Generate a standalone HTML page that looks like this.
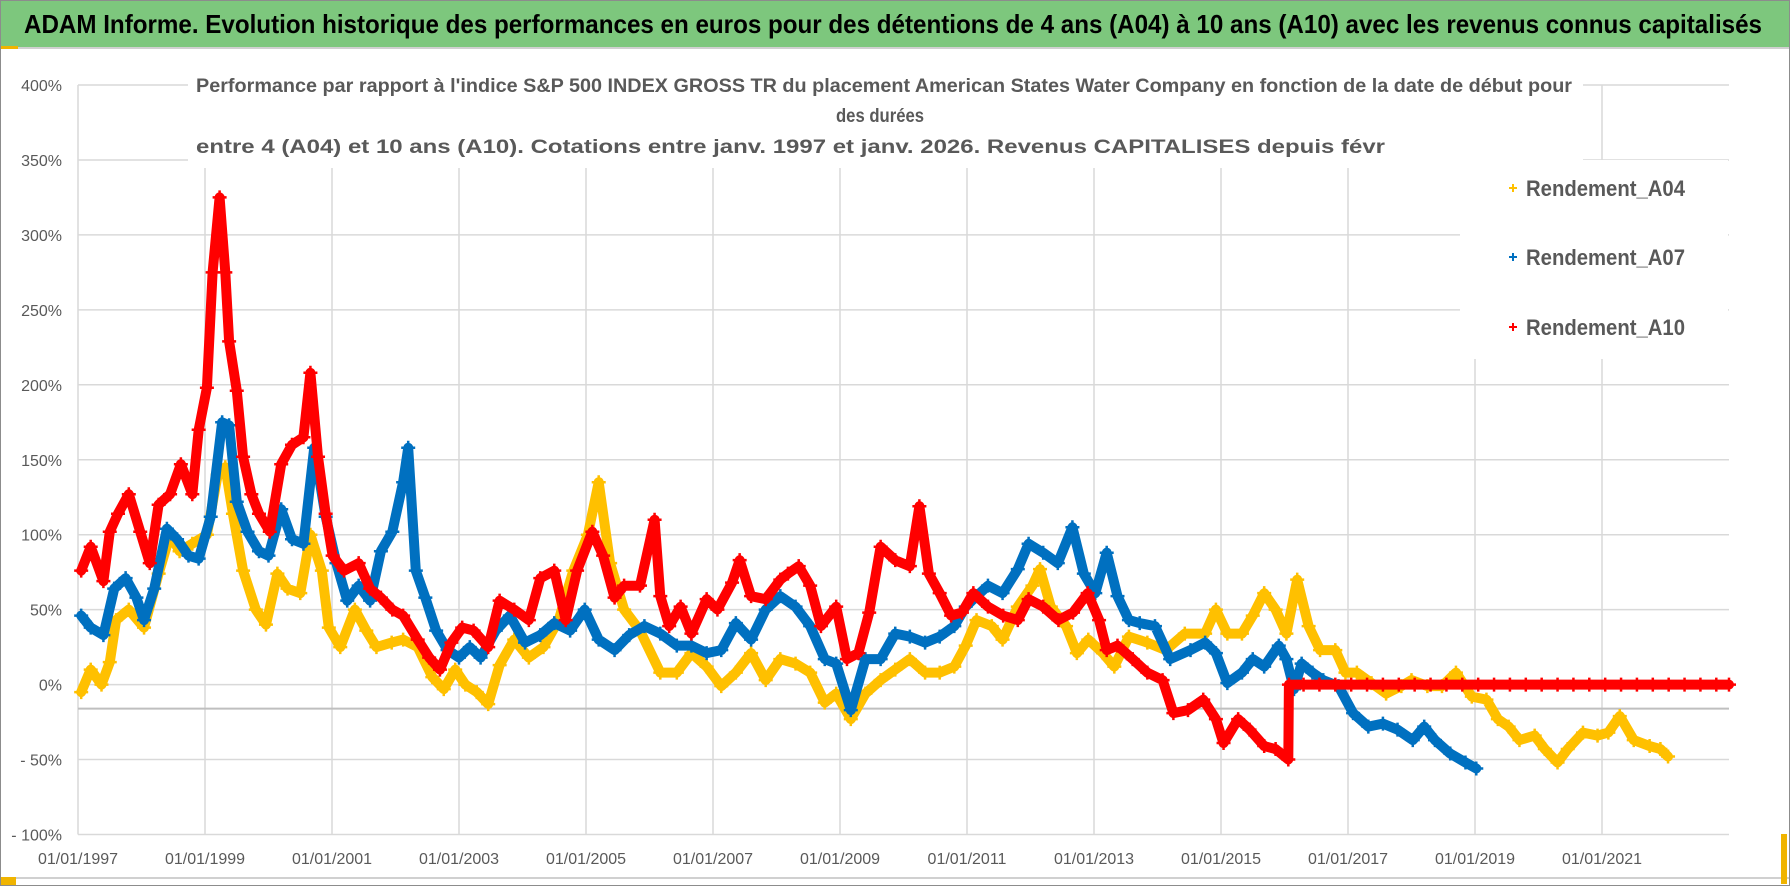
<!DOCTYPE html>
<html><head><meta charset="utf-8">
<style>
html,body{margin:0;padding:0;background:#fff;}
body{width:1790px;height:886px;overflow:hidden;}
svg{display:block;font-family:"Liberation Sans",sans-serif;}
</style></head>
<body>
<svg id="chart" width="1790" height="886" viewBox="0 0 1790 886" xmlns="http://www.w3.org/2000/svg">
<rect x="0" y="0" width="1790" height="886" fill="#fff"/>
<rect x="0.5" y="0.5" width="1789" height="885" fill="none" stroke="#8c8c8c" stroke-width="1"/>
<rect x="1" y="1" width="1788" height="46" fill="#7dc77d"/>
<line x1="1" y1="48" x2="1789" y2="48" stroke="#d0d0d0" stroke-width="2"/>
<rect x="1" y="46" width="17" height="3" fill="#f0b400"/>
<text x="24" y="33" font-size="26" font-weight="bold" fill="#000" textLength="1738" lengthAdjust="spacingAndGlyphs">ADAM Informe. Evolution historique des performances en euros pour des détentions de 4 ans (A04) à 10 ans (A10) avec les revenus connus capitalisés</text>
<line x1="1" y1="878" x2="1789" y2="878" stroke="#d0d0d0" stroke-width="2"/>
<rect x="1" y="877" width="15" height="8" fill="#f0b400"/>
<rect x="1781" y="834" width="6" height="50" fill="#f0b400"/>
<g id="grid"></g>
<rect x="188" y="60" width="1395" height="108" fill="#fff"/>
<rect x="1460" y="160" width="268" height="199" fill="#fff"/>
<g id="plot"></g>
<g fill="#595959" font-weight="bold" font-size="19">
<text x="196" y="92" textLength="1376" lengthAdjust="spacingAndGlyphs">Performance par rapport à l'indice S&amp;P 500 INDEX GROSS TR  du placement American States Water Company en fonction de la date de début pour</text>
<text x="836" y="122" textLength="88" lengthAdjust="spacingAndGlyphs">des durées</text>
<text x="196" y="153" textLength="1189" lengthAdjust="spacingAndGlyphs">entre 4 (A04) et 10 ans (A10). Cotations entre janv. 1997 et janv. 2026. Revenus CAPITALISES depuis févr</text>
</g>
<g id="legend"></g>
</svg>
<script>
const yTicks=[400,350,300,250,200,150,100,50,0,-50,-100];
const yTickLabels=["400%","350%","300%","250%","200%","150%","100%","50%","0%","- 50%","- 100%"];
const xTicks=[1997,1999,2001,2003,2005,2007,2009,2011,2013,2015,2017,2019,2021];
const xTickLabels=["01/01/1997","01/01/1999","01/01/2001","01/01/2003","01/01/2005","01/01/2007","01/01/2009","01/01/2011","01/01/2013","01/01/2015","01/01/2017","01/01/2019","01/01/2021"];
const seriesNames=["Rendement_A04","Rendement_A07","Rendement_A10"];
const seriesColors=["#ffc000","#0070c0","#ff0000"];

const datesA04=[1997.05,1997.2,1997.37,1997.5,1997.6,1997.8,1998.04,1998.27,1998.45,1998.6,1998.8,1999.03,1999.2,1999.32,1999.44,1999.6,1999.8,1999.96,2000.14,2000.3,2000.5,2000.66,2000.84,2000.95,2001.13,2001.36,2001.54,2001.7,2001.94,2002.12,2002.35,2002.58,2002.76,2002.94,2003.1,2003.28,2003.46,2003.64,2003.87,2004.1,2004.33,2004.57,2004.8,2005.03,2005.2,2005.38,2005.6,2005.85,2006.17,2006.43,2006.66,2006.9,2007.13,2007.36,2007.6,2007.83,2008.06,2008.3,2008.53,2008.76,2008.94,2009.17,2009.4,2009.64,2009.87,2010.1,2010.34,2010.57,2010.8,2010.98,2011.15,2011.39,2011.56,2011.8,2012.03,2012.15,2012.32,2012.56,2012.73,2012.91,2013.14,2013.32,2013.55,2013.84,2014.13,2014.43,2014.75,2014.92,2015.1,2015.33,2015.5,2015.68,2015.86,2016.03,2016.2,2016.38,2016.56,2016.8,2016.96,2017.14,2017.37,2017.6,2017.84,2018.0,2018.25,2018.48,2018.7,2018.95,2019.18,2019.36,2019.53,2019.7,2019.94,2020.1,2020.3,2020.46,2020.7,2020.93,2021.1,2021.28,2021.5,2021.75,2021.92,2022.04];
const valuesA04=[-5,10,0,15,43,50,38,74,100,89,94,100,140,145,114,76,50,40,74,64,61,100,76,38,25,50,36,25,28,30,25,5,-3,10,0,-5,-13,13,30,18,25,43,76,100,135,81,50,36,8,8,21,12,-1,8,21,3,17,14,8,-12,-6,-23,-6,3,10,17,8,8,12,26,43,39,30,52,66,77,52,39,21,30,21,12,32,28,23,34,34,50,34,34,46,61,50,34,70,39,23,23,8,8,1,-6,-1,3,-1,-1,8,-8,-10,-23,-28,-37,-34,-43,-52,-43,-32,-34,-32,-21,-37,-41,-43,-48];

const datesA07=[1997.05,1997.2,1997.4,1997.57,1997.75,1997.92,1998.04,1998.2,1998.4,1998.56,1998.74,1998.9,1999.09,1999.27,1999.38,1999.5,1999.67,1999.85,2000.0,2000.2,2000.37,2000.55,2000.72,2000.9,2001.07,2001.24,2001.42,2001.6,2001.77,2001.95,2002.12,2002.2,2002.32,2002.47,2002.64,2002.82,2003.0,2003.17,2003.34,2003.58,2003.8,2004.04,2004.28,2004.5,2004.75,2004.98,2005.2,2005.45,2005.68,2005.92,2006.17,2006.43,2006.66,2006.9,2007.13,2007.36,2007.6,2007.83,2008.06,2008.3,2008.53,2008.76,2008.94,2009.17,2009.4,2009.64,2009.87,2010.1,2010.34,2010.57,2010.8,2010.98,2011.15,2011.33,2011.56,2011.8,2011.97,2012.2,2012.43,2012.66,2012.84,2013.02,2013.2,2013.37,2013.55,2013.72,2013.96,2014.2,2014.52,2014.75,2014.92,2015.1,2015.33,2015.5,2015.68,2015.91,2016.03,2016.15,2016.27,2016.44,2016.61,2016.85,2017.08,2017.32,2017.55,2017.78,2018.02,2018.2,2018.37,2018.61,2018.85,2019.02];
const valuesA07=[46,38,33,64,71,58,43,64,104,97,86,84,112,175,173,122,102,89,86,117,97,94,158,112,81,56,66,56,89,102,135,158,76,58,36,23,18,25,18,36,46,28,33,41,36,50,30,23,33,39,34,26,26,21,23,41,30,50,59,52,39,17,14,-17,17,17,34,32,28,32,39,52,59,66,61,77,94,88,81,105,74,61,88,59,43,41,39,17,23,28,21,1,8,17,12,26,17,-3,14,8,3,-1,-19,-28,-26,-30,-37,-28,-37,-46,-52,-56];

const datesA10=[1997.05,1997.2,1997.4,1997.5,1997.63,1997.8,1997.98,1998.13,1998.27,1998.45,1998.62,1998.8,1998.9,1999.03,1999.12,1999.23,1999.32,1999.38,1999.5,1999.6,1999.73,1999.85,2000.02,2000.2,2000.37,2000.55,2000.66,2000.78,2000.9,2001.01,2001.19,2001.42,2001.6,2001.77,2001.95,2002.12,2002.35,2002.53,2002.7,2002.88,2003.05,2003.23,2003.46,2003.64,2003.87,2004.1,2004.28,2004.5,2004.68,2004.86,2005.1,2005.27,2005.45,2005.6,2005.85,2006.08,2006.17,2006.31,2006.49,2006.66,2006.9,2007.07,2007.3,2007.42,2007.6,2007.83,2008.06,2008.18,2008.35,2008.53,2008.7,2008.94,2009.11,2009.29,2009.46,2009.64,2009.87,2010.1,2010.25,2010.4,2010.57,2010.75,2010.92,2011.1,2011.33,2011.57,2011.8,2011.97,2012.2,2012.44,2012.67,2012.9,2013.08,2013.2,2013.37,2013.61,2013.84,2014.08,2014.25,2014.48,2014.72,2014.92,2015.04,2015.27,2015.45,2015.68,2015.86,2016.06,2016.07,2016.3,2016.55,2016.8,2017.05,2017.3,2017.55,2017.8,2018.05,2018.3,2018.55,2018.8,2019.05,2019.3,2019.55,2019.8,2020.05,2020.3,2020.55,2020.8,2021.05,2021.3,2021.55,2021.8,2022.05,2022.3,2022.55,2022.8,2023.0];
const valuesA10=[76,92,69,102,114,127,102,81,120,127,147,127,170,198,275,325,275,229,196,152,127,114,102,147,160,165,208,152,114,86,76,81,64,58,50,46,30,18,10,28,38,36,25,56,50,43,71,76,43,76,102,86,58,66,66,110,59,39,52,34,57,50,68,83,59,57,70,74,79,66,39,52,17,21,48,92,83,79,119,74,61,46,48,61,52,46,43,57,52,43,48,61,43,23,26,17,8,3,-19,-17,-10,-23,-39,-23,-30,-41,-43,-50,0,0,0,0,0,0,0,0,0,0,0,0,0,0,0,0,0,0,0,0,0,0,0,0,0,0,0,0,0];

const seriesDates=[datesA04,datesA07,datesA10];
const seriesValues=[valuesA04,valuesA07,valuesA10];

const NS="http://www.w3.org/2000/svg";
const X0=78,X1=1729,XMIN=1997,XMAX=2023.0;
const YTOP=85,YBOT=834.5,YMAX=400,YMIN=-100;
function xScale(d){return X0+(d-XMIN)/(XMAX-XMIN)*(X1-X0);}
function yScale(v){return YBOT-(v-YMIN)/(YMAX-YMIN)*(YBOT-YTOP);}
function mk(tag,attrs,parent){const e=document.createElementNS(NS,tag);for(const k in attrs)e.setAttribute(k,attrs[k]);parent.appendChild(e);return e;}

const grid=document.getElementById('grid');
yTicks.forEach((v,i)=>{
  const y=yScale(v);
  const l=mk('line',{x1:X0,x2:X1,y1:y,y2:y,stroke:'#d9d9d9','stroke-width':1.5},grid);
  
  
  const t=mk('text',{x:62,y:y+6,'text-anchor':'end','font-size':16,fill:'#595959'},grid);
  t.textContent=yTickLabels[i];
  
  
});
xTicks.forEach((d,i)=>{
  const x=xScale(d);
  const l=mk('line',{x1:x,x2:x,y1:YTOP,y2:YBOT,stroke:'#d9d9d9','stroke-width':1.5},grid);
  
  
  const t=mk('text',{x:x,y:864,'text-anchor':'middle','font-size':16,fill:'#595959'},grid);
  t.textContent=xTickLabels[i];
  
  
});
const ax=mk('line',{x1:X0,x2:X1,y1:yScale(-16),y2:yScale(-16),stroke:'#bfbfbf','stroke-width':2},grid);



const plot=document.getElementById('plot');
seriesValues.forEach((vals,s)=>{
  const g=mk('g',{},plot);
  
  
  const dates=seriesDates[s];
  const pts=vals.map((v,i)=>xScale(dates[i]).toFixed(1)+','+yScale(v).toFixed(1)).join(' ');
  const pl=mk('polyline',{points:pts,fill:'none',stroke:seriesColors[s],'stroke-width':10,'stroke-linejoin':'round','stroke-linecap':'round'},g);
  
  
  vals.forEach((v,i)=>{
    const x=xScale(dates[i]),y=yScale(v);
    const p=mk('path',{d:`M${x-7},${y}H${x+7}M${x},${y-7}V${y+7}`,stroke:seriesColors[s],'stroke-width':2.5},g);
    
    
  });
});

const legend=document.getElementById('legend');
[188,257,327].forEach((y,s)=>{
  const g=mk('g',{},legend);
  
  
  mk('path',{d:`M1509,${y}H1517M1513,${y-4}V${y+4}`,stroke:seriesColors[s],'stroke-width':2},g);
  const t=mk('text',{x:1526,y:y+8,'font-size':22,'font-weight':'bold',fill:'#595959',textLength:159,lengthAdjust:'spacingAndGlyphs'},g);
  t.textContent=seriesNames[s];
  
  
});
</script>
</body></html>
